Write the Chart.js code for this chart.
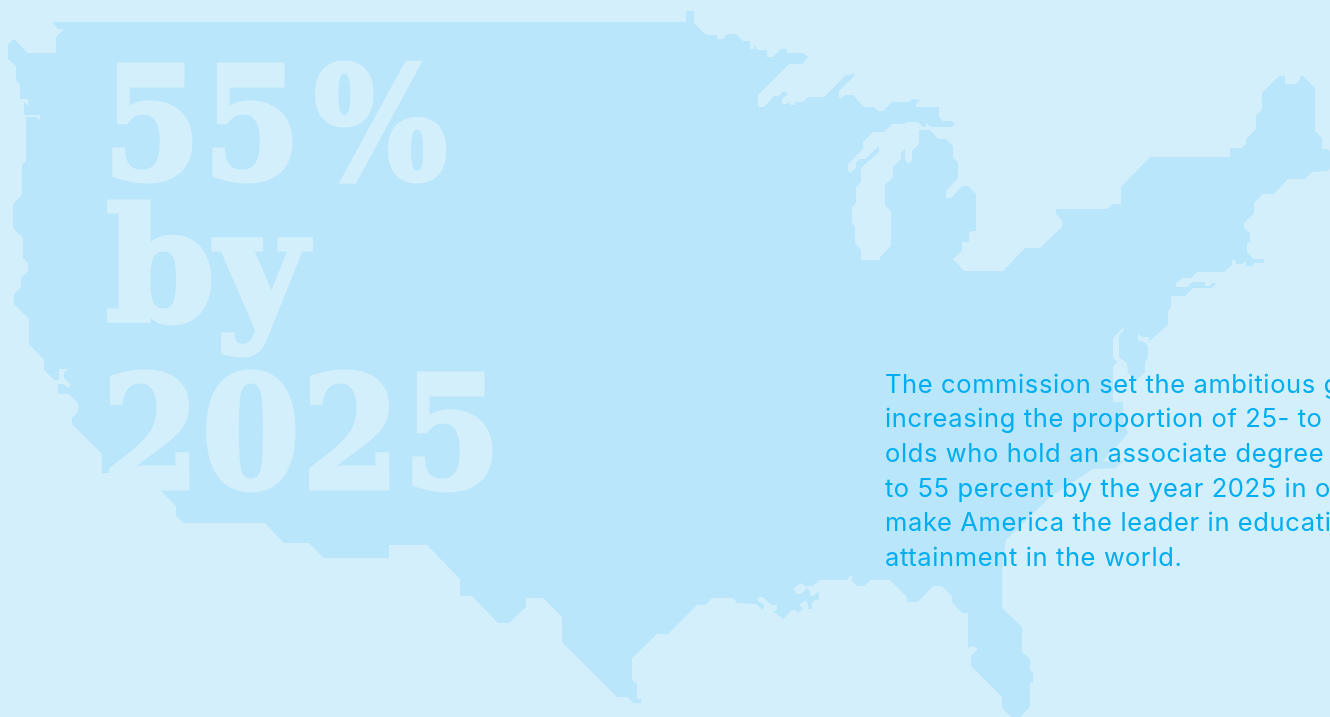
<!DOCTYPE html>
<html><head><meta charset="utf-8">
<style>html,body{margin:0;padding:0;background:#d3effc;overflow:hidden;width:1330px;height:717px}canvas{display:block}</style>
<script src="https://cdn.jsdelivr.net/npm/chart.js@4"></script>
</head><body><canvas id="c" width="1330" height="717"></canvas>
<script>
const outlineX=[52,58,64,56,56,28,14,8,8,16,16,20,20,28,28,24,24,40,40,36,26,26,22,22,13,13,23,23,28,28,21,21,14,14,29,29,44,44,54,59,59,68,64,64,71,68,63,58,58,69,78,78,72,72,102,102,132,161,176,176,184,265,284,309,324,389,389,427,460,460,472,498,509,526,526,543,562,562,617,628,633,641,641,637,637,632,632,657,668,697,705,712,733,737,756,762,764,764,757,759,763,771,777,777,773,776,783,792,795,798,803,799,805,808,808,812,812,815,819,819,814,810,810,807,801,797,793,801,805,813,820,847,851,853,851,857,864,871,890,907,907,918,933,942,952,952,962,968,968,973,978,971,971,1002,1002,1009,1012,1020,1030,1030,1033,1033,1030,1030,1022,1022,1002,1002,1006,1050,1053,1093,1116,1123,1103,1112,1118,1128,1123,1123,1113,1113,1117,1113,1113,1123,1124,1119,1119,1127,1128,1136,1145,1145,1148,1148,1144,1138,1138,1142,1150,1147,1168,1168,1171,1171,1185,1193,1212,1217,1212,1210,1205,1205,1192,1187,1176,1176,1183,1191,1197,1224,1232,1232,1235,1236,1242,1246,1246,1252,1254,1264,1264,1253,1249,1247,1247,1250,1250,1244,1244,1254,1254,1263,1274,1288,1305,1312,1328,1330,1330,1328,1322,1322,1315,1315,1303,1300,1300,1296,1285,1285,1279,1262,1262,1256,1256,1246,1246,1242,1230,1230,1150,1121,1121,1113,1107,1056,1056,1062,1062,1040,1025,1003,964,953,962,962,969,969,972,976,976,968,962,951,946,946,958,958,953,953,946,938,930,919,919,912,912,908,905,905,901,901,893,893,885,885,891,891,880,880,861,861,855,855,852,852,856,856,861,861,879,879,865,859,856,856,850,848,848,865,863,863,873,884,892,904,906,918,923,926,926,931,952,955,952,943,939,939,916,916,920,912,909,892,883,878,874,864,853,845,842,839,839,855,853,850,846,824,808,803,795,795,791,788,787,782,782,788,784,778,774,764,758,758,789,802,808,803,787,787,781,773,767,767,758,754,754,750,750,743,736,727,723,717,717,706,694,694,686,686];
const outlineY=[22,29,29,37,53,53,39,44,59,66,80,85,99,99,106,102,115,115,120,117,117,161,165,195,204,228,238,258,263,271,278,287,294,304,319,344,360,370,380,380,369,369,373,378,385,388,384,384,394,394,403,412,418,424,454,473,473,491,506,516,523,523,543,543,558,558,545,545,579,596,596,623,623,607,598,598,617,642,697,697,703,703,699,699,684,680,658,634,634,605,605,598,598,603,604,609,609,605,600,597,597,605,605,609,613,613,619,610,610,613,609,605,600,604,609,609,603,600,600,591,596,596,591,588,594,594,589,583,586,586,580,580,575,577,580,586,586,580,580,597,602,602,586,586,596,602,613,613,648,646,649,656,666,697,708,715,717,717,707,683,682,673,670,659,652,627,608,570,540,497,495,469,468,461,461,450,445,433,420,402,402,367,362,357,338,328,330,335,357,363,373,381,372,362,358,346,342,340,334,337,337,343,325,311,308,296,296,288,288,283,283,286,286,282,282,287,287,283,278,278,272,272,265,260,260,264,264,261,266,266,263,263,259,259,254,253,243,242,233,228,223,213,203,194,194,179,179,172,171,168,152,149,149,138,131,88,76,76,80,84,84,76,76,93,110,115,129,139,144,148,148,157,157,187,204,204,209,209,214,220,227,248,248,271,271,259,251,242,242,233,231,231,194,186,186,198,198,191,178,163,157,146,139,139,130,130,144,151,160,164,160,149,153,159,167,177,185,205,211,246,257,260,260,250,243,227,223,207,203,187,182,168,152,146,159,159,163,168,173,170,164,147,147,142,132,132,124,124,122,122,127,127,123,127,127,124,121,121,117,107,107,104,100,99,102,102,111,111,107,107,95,95,98,98,91,75,73,75,75,97,97,102,102,105,105,102,104,104,99,94,91,96,96,107,107,95,64,64,57,53,53,49,49,57,57,50,50,45,49,49,41,41,34,34,39,39,35,35,23,11,11,22];
const headlineGlyphs=[["5","5","%"],["b","y"],["2","0","2","5"]];
const headlineBase=[178.5,319.5,487.5];
const bodyLines=["The commission set the ambitious goal of","increasing the proportion of 25- to 34-year-","olds who hold an associate degree or higher","to 55 percent by the year 2025 in order to","make America the leader in educational","attainment in the world."];
const bodyBase=[393,427,462,497,531,566];
const BG='#d3effc',MAP='#b9e6fb',BODY='#00aeef';
const glyphLayout=[[103,203,314],[106,216],[102,202,302,403]];
const lineScale=[.9,1,.9];
const textPlugin={id:'text',afterDraw(ch){const c=ch.ctx;c.save();c.textBaseline='alphabetic';c.textAlign='left';
 c.fillStyle=BG;c.strokeStyle=BG;c.lineWidth=5;c.lineJoin='miter';c.font='bold 156px "DejaVu Serif"';
 headlineGlyphs.forEach((line,i)=>line.forEach((g,j)=>{c.save();c.translate(glyphLayout[i][j],headlineBase[i]);c.scale(lineScale[i],1);c.fillText(g,0,0);c.strokeText(g,0,0);c.restore();}));
 c.fillStyle=BODY;c.font='25.5px Inter';c.letterSpacing='0.62px';
 bodyLines.forEach((t,i)=>c.fillText(t,885,bodyBase[i]));
 c.restore();}};
new Chart(document.getElementById('c'),{type:'scatter',
 data:{datasets:[{label:'United States',data:outlineX.map((x,i)=>({x,y:outlineY[i]})),showLine:true,fill:'shape',backgroundColor:MAP,borderColor:MAP,borderWidth:0,pointRadius:0,tension:0}]},
 options:{responsive:false,animation:false,layout:{padding:0},plugins:{legend:{display:false},tooltip:{enabled:false},title:{display:false}},
 scales:{x:{type:'linear',min:0,max:1330,display:false},y:{type:'linear',min:0,max:717,reverse:true,display:false}}},
 plugins:[textPlugin]});
</script></body></html>
